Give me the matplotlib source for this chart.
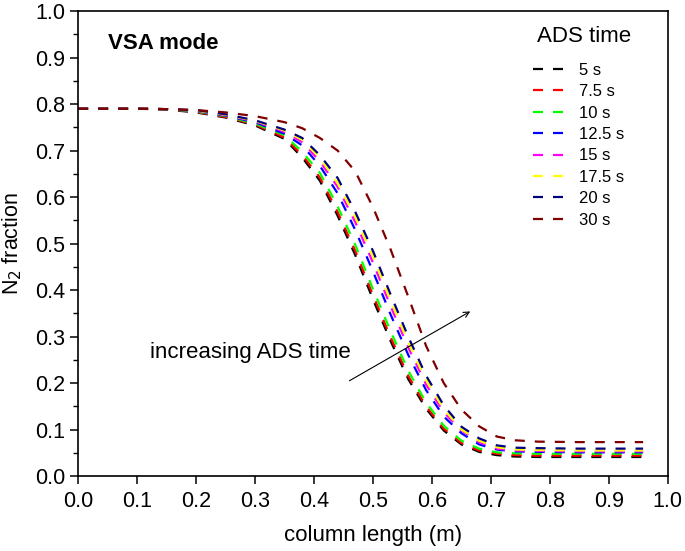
import numpy as np
import matplotlib
matplotlib.use('Agg')
import matplotlib.pyplot as plt
from matplotlib.ticker import MultipleLocator

plt.rcParams['font.family'] = ['Liberation Sans', 'DejaVu Sans']

# column position (m)
x = [0.0, 0.05, 0.1, 0.15, 0.2, 0.25, 0.3, 0.35, 0.38, 0.41, 0.44, 0.47,
     0.5, 0.53, 0.56, 0.59, 0.62, 0.65, 0.68, 0.71, 0.74, 0.78, 0.85, 0.9, 0.958]

labels = ['5 s', '7.5 s', '10 s', '12.5 s', '15 s', '17.5 s', '20 s', '30 s']
colors = ['#000000', '#ff0000', '#00ff00', '#0000ff', '#ff00ff', '#ffff00', '#000080', '#800000']

n2_5s = [0.790, 0.790, 0.790, 0.788, 0.782, 0.771, 0.754, 0.725, 0.685, 0.635, 0.560, 0.475,
         0.380, 0.290, 0.208, 0.145, 0.098, 0.068, 0.052, 0.045, 0.042, 0.041, 0.041, 0.041, 0.041]
n2_7s5 = [0.790, 0.790, 0.790, 0.789, 0.783, 0.772, 0.756, 0.728, 0.690, 0.642, 0.568, 0.484,
          0.389, 0.298, 0.215, 0.150, 0.102, 0.071, 0.055, 0.048, 0.045, 0.044, 0.044, 0.044, 0.044]
n2_10s = [0.790, 0.790, 0.790, 0.789, 0.784, 0.774, 0.758, 0.733, 0.697, 0.652, 0.580, 0.497,
          0.402, 0.311, 0.226, 0.158, 0.108, 0.076, 0.059, 0.051, 0.049, 0.048, 0.048, 0.048, 0.048]
n2_12s5 = [0.790, 0.790, 0.790, 0.789, 0.785, 0.775, 0.761, 0.736, 0.711, 0.667, 0.608, 0.529,
           0.440, 0.347, 0.260, 0.185, 0.128, 0.092, 0.068, 0.057, 0.053, 0.052, 0.051, 0.051, 0.051]
n2_15s = [0.790, 0.790, 0.790, 0.789, 0.786, 0.776, 0.763, 0.740, 0.718, 0.677, 0.622, 0.546,
          0.459, 0.365, 0.276, 0.197, 0.137, 0.098, 0.073, 0.059, 0.055, 0.054, 0.053, 0.053, 0.053]
n2_17s5 = [0.790, 0.790, 0.790, 0.789, 0.786, 0.777, 0.764, 0.743, 0.723, 0.684, 0.630, 0.557,
           0.472, 0.377, 0.287, 0.206, 0.144, 0.100, 0.076, 0.062, 0.057, 0.056, 0.055, 0.055, 0.055]
n2_20s = [0.790, 0.790, 0.790, 0.789, 0.787, 0.778, 0.765, 0.745, 0.727, 0.690, 0.641, 0.568,
          0.484, 0.390, 0.299, 0.216, 0.152, 0.106, 0.081, 0.066, 0.061, 0.060, 0.059, 0.059, 0.059]
n2_30s = [0.790, 0.790, 0.790, 0.789, 0.787, 0.782, 0.774, 0.761, 0.748, 0.727, 0.700, 0.655,
          0.578, 0.487, 0.385, 0.280, 0.200, 0.143, 0.107, 0.085, 0.077, 0.074, 0.073, 0.073, 0.073]

series = [n2_5s, n2_7s5, n2_10s, n2_12s5, n2_15s, n2_17s5, n2_20s, n2_30s]

fig = plt.figure(figsize=(6.85, 5.51), dpi=100)
ax = fig.add_axes([0.114, 0.136, 0.861, 0.844])

for y, c, lab in zip(series, colors, labels):
    ax.plot(x, y, color=c, lw=1.6, linestyle=(0, (4.5, 4.5)), label=lab)

ax.set_xlim(0, 1.0)
ax.set_ylim(0, 1.0)
ax.xaxis.set_major_locator(MultipleLocator(0.1))
ax.yaxis.set_major_locator(MultipleLocator(0.1))
ax.yaxis.set_minor_locator(MultipleLocator(0.05))
ax.tick_params(axis='both', which='major', direction='out', length=6, width=1.1,
               labelsize=15.5, top=False, right=False)
ax.tick_params(axis='x', which='major', pad=5)
ax.tick_params(axis='y', which='minor', direction='out', length=3.5, width=1.0)
for s in ax.spines.values():
    s.set_linewidth(1.2)

ax.set_xlabel('column length (m)', fontsize=16, labelpad=9)
ax.set_ylabel('N$_2$ fraction', fontsize=15.5, labelpad=8)

ax.text(0.051, 0.931, 'VSA mode', fontsize=16, fontweight='bold', va='center', ha='left')
ax.text(0.122, 0.265, 'increasing ADS time', fontsize=16, va='center', ha='left')
ax.annotate('', xy=(0.669, 0.357), xytext=(0.456, 0.202),
            arrowprops=dict(arrowstyle='->', color='black', lw=0.8))

# legend title drawn as plain text, entries below it
ax.text(0.858, 0.946, 'ADS time', fontsize=16, va='center', ha='center')
leg = ax.legend(loc='upper left', bbox_to_anchor=(0.771, 0.889), frameon=False,
                fontsize=12, handlelength=1.9, labelspacing=0.386, handletextpad=0.9,
                borderpad=0, borderaxespad=0)

fig.savefig('out.png', dpi=100)
